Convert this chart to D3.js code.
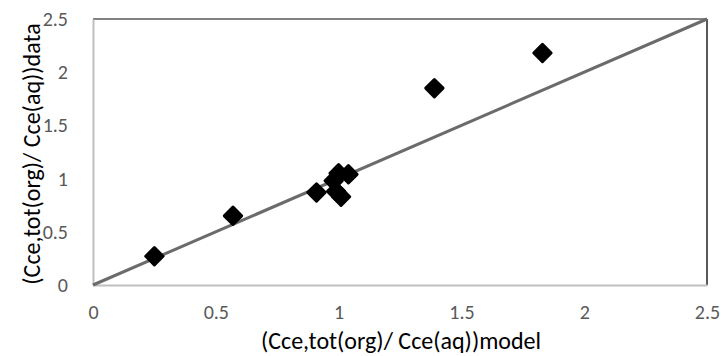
<!DOCTYPE html>
<html><head><meta charset="utf-8">
<script src="https://cdn.jsdelivr.net/npm/d3@7"></script>
<style>body{margin:0;background:#fff}svg{display:block}</style>
</head><body>
<svg id="c" width="721" height="356"></svg>
<script>
const xTicks = [0, 0.5, 1, 1.5, 2, 2.5];
const yTicks = [0, 0.5, 1, 1.5, 2, 2.5];
const xTickLabels = ["0", "0.5", "1", "1.5", "2", "2.5"];
const yTickLabels = ["0", "0.5", "1", "1.5", "2", "2.5"];
const modelValues = [0.25, 0.57, 0.91, 0.98, 1.00, 1.04, 0.99, 1.01, 1.39, 1.83];
const dataValues  = [0.27, 0.65, 0.87, 0.98, 1.05, 1.04, 0.88, 0.83, 1.85, 2.18];
const lineX = [0, 2.5];
const lineY = [0, 2.5];
const xTitle = "(Cce,tot(org)/ Cce(aq))model";
const yTitle = "(Cce,tot(org)/ Cce(aq))data";

const svg = d3.select("#c");
const L = 93, R = 707, T = 19, B = 285;
const x = d3.scaleLinear().domain([0, 2.5]).range([L, R]);
const y = d3.scaleLinear().domain([0, 2.5]).range([B, T]);
const font = "Carlito, 'Liberation Sans Narrow', 'Open Sans', sans-serif";

// plot border
svg.append("line").attr("x1", L).attr("x2", R).attr("y1", T).attr("y2", T).attr("stroke", "#595959").attr("stroke-width", 1.5);
svg.append("line").attr("x1", R).attr("x2", R).attr("y1", T).attr("y2", B).attr("stroke", "#222").attr("stroke-width", 1.5);

// axes
const xa = svg.append("g").attr("transform", `translate(0,${B})`)
  .call(d3.axisBottom(x).tickValues(xTicks).tickFormat((d,i)=>xTickLabels[i]).tickSize(0).tickPadding(20));
const ya = svg.append("g").attr("transform", `translate(${L},0)`)
  .call(d3.axisLeft(y).tickValues(yTicks).tickFormat((d,i)=>yTickLabels[i]).tickSize(0).tickPadding(25));
[xa, ya].forEach(a => {
  a.select(".domain").attr("stroke", "#bfbfbf").attr("stroke-width", 2);
  a.selectAll("text").attr("fill", "#595959").style("font-family", font).style("font-size", "20px");
});

// 1:1 line
svg.append("line").attr("x1", x(lineX[0])).attr("y1", y(lineY[0])).attr("x2", x(lineX[1])).attr("y2", y(lineY[1]))
  .attr("stroke", "#6b6b6b").attr("stroke-width", 3);

// points
const sym = d3.symbol().type(d3.symbolSquare).size(150);
svg.append("g").selectAll("path").data(modelValues.map((m,i)=>[m, dataValues[i]])).join("path")
  .attr("d", sym)
  .attr("transform", d => `translate(${x(d[0])},${y(d[1])}) rotate(45)`)
  .attr("fill", "#000").attr("stroke", "#000").attr("stroke-width", 3).attr("stroke-linejoin", "round");

// titles
svg.append("text").attr("x", 401).attr("y", 349).attr("text-anchor", "middle")
  .style("font-family", font).style("font-size", "24px").attr("fill", "#000").text(xTitle);
svg.append("text").attr("transform", "translate(40,154) rotate(-90)").attr("text-anchor", "middle")
  .style("font-family", font).style("font-size", "24px").attr("fill", "#000").text(yTitle);
</script>
</body></html>
